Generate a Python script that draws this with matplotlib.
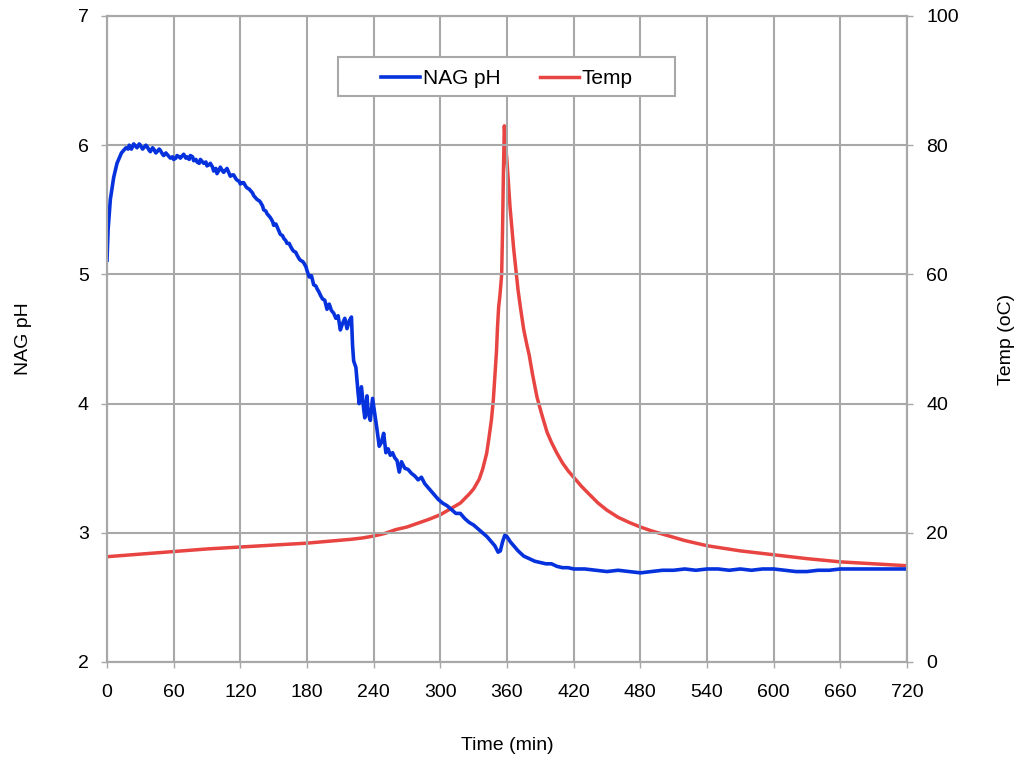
import matplotlib
matplotlib.use("Agg")
import matplotlib.pyplot as plt
from matplotlib.patches import Rectangle

plt.rcParams['font.family'] = ['Liberation Sans', 'DejaVu Sans']

# NAG pH readings (time in min)
ph_time = [0, 1, 3, 6, 9, 13, 15, 17, 19, 20, 22, 24, 26, 27, 29, 30, 32, 33, 35, 36,
           38, 39, 41, 42, 44, 45, 47, 48, 50, 51, 53, 54, 56, 57, 59, 60, 62, 63, 65, 66,
           68, 69, 71, 72, 74, 75, 77, 78, 80, 81, 83, 84, 86, 87, 89, 90, 92, 93, 95, 96,
           98, 99, 101, 102, 104, 105, 107, 108, 110, 111, 113, 114, 116, 117, 119, 120, 122, 123, 125, 126,
           128, 129, 131, 132, 134, 135, 137, 138, 140, 141, 143, 144, 146, 147, 149, 150, 152, 153, 155, 156,
           158, 159, 161, 162, 164, 165, 167, 168, 170, 171, 173, 174, 176, 177, 179, 180, 182, 184, 186, 188,
           189, 191, 192, 194, 196, 198, 200, 202, 204, 206, 208, 210, 212, 214, 216, 218,
           220, 221, 222, 224, 226, 227, 229, 231, 232, 234, 235, 237, 239, 241, 243, 245, 247, 249, 251, 253,
           255, 257, 259, 261, 263, 265, 268, 271, 274, 277, 280, 283, 286, 290, 294, 298, 302, 306, 310, 314,
           318, 322, 326, 330, 334, 338, 342, 346, 349, 352, 354, 356, 358, 360, 363, 366, 370, 375, 380, 385,
           390, 395, 400, 405, 410, 415, 420, 430, 440, 450, 460, 470, 480, 490, 500, 510, 520, 530, 540, 550,
           560, 570, 580, 590, 600, 610, 620, 630, 640, 650, 660, 670, 680, 690, 700, 710, 720]
ph_vals = [5.11, 5.35, 5.58, 5.75, 5.86, 5.94, 5.96, 5.98, 5.97, 6.00, 5.97, 6.01, 5.99, 5.98, 6.01, 6.00, 5.97, 5.98, 6.00, 5.99,
           5.96, 5.95, 5.98, 5.97, 5.94, 5.95, 5.97, 5.96, 5.93, 5.92, 5.94, 5.93, 5.91, 5.90, 5.91, 5.89, 5.90, 5.92, 5.91, 5.90,
           5.92, 5.93, 5.90, 5.91, 5.89, 5.92, 5.91, 5.88, 5.89, 5.87, 5.86, 5.89, 5.87, 5.86, 5.87, 5.84, 5.85, 5.86, 5.83, 5.80,
           5.82, 5.78, 5.81, 5.83, 5.80, 5.79, 5.81, 5.82, 5.78, 5.76, 5.77, 5.77, 5.74, 5.73, 5.72, 5.70, 5.71, 5.71, 5.68, 5.67,
           5.66, 5.65, 5.63, 5.61, 5.59, 5.58, 5.57, 5.56, 5.53, 5.50, 5.49, 5.47, 5.45, 5.44, 5.41, 5.38, 5.39, 5.37, 5.33, 5.31,
           5.30, 5.28, 5.26, 5.24, 5.24, 5.22, 5.19, 5.18, 5.17, 5.15, 5.12, 5.11, 5.10, 5.09, 5.06, 5.03, 4.98, 4.99, 4.92, 4.91,
           4.89, 4.86, 4.84, 4.81, 4.80, 4.73, 4.77, 4.72, 4.70, 4.66, 4.68, 4.57, 4.62, 4.66, 4.58, 4.64,
           4.67, 4.45, 4.33, 4.28, 4.08, 4.00, 4.13, 3.96, 3.89, 4.06, 3.93, 3.87, 4.04, 3.92, 3.80, 3.67, 3.70, 3.77, 3.62, 3.65,
           3.60, 3.62, 3.58, 3.56, 3.47, 3.55, 3.50, 3.49, 3.46, 3.44, 3.41, 3.43, 3.38, 3.34, 3.30, 3.26, 3.23, 3.21, 3.18, 3.15,
           3.15, 3.11, 3.08, 3.06, 3.03, 3.00, 2.97, 2.93, 2.90, 2.85, 2.86, 2.93, 2.98, 2.97, 2.93, 2.90, 2.86, 2.82, 2.80, 2.78,
           2.77, 2.76, 2.76, 2.74, 2.73, 2.73, 2.72, 2.72, 2.71, 2.70, 2.71, 2.70, 2.69, 2.70, 2.71, 2.71, 2.72, 2.71, 2.72, 2.72,
           2.71, 2.72, 2.71, 2.72, 2.72, 2.71, 2.70, 2.70, 2.71, 2.71, 2.72, 2.72, 2.72, 2.72, 2.72, 2.72, 2.72]

# temperature readings (oC)
temp_time = [0, 30, 60, 90, 120, 150, 180, 200, 220, 230, 240, 250, 260, 270, 280, 290, 300, 305, 312, 318,
             322, 326, 330, 335, 338, 341.7, 344, 346, 347.7, 349, 350.5, 351.5, 352.5, 353.5, 354.5, 355.2, 356, 356.8, 357.6, 358.5,
             360, 362.7, 366, 370, 372, 375, 378, 380, 383, 387, 391, 396, 400, 405, 410, 415, 420, 427, 435, 442,
             450, 460, 470, 480, 490, 500, 510, 520, 530, 540, 555, 570, 585, 600, 615, 630, 645, 660, 675, 690,
             705, 720]
temp_vals = [16.3, 16.7, 17.1, 17.5, 17.8, 18.1, 18.4, 18.7, 19.0, 19.2, 19.5, 19.9, 20.5, 20.9, 21.5, 22.1, 22.8, 23.3, 24.0, 24.6,
             25.3, 26.0, 26.8, 28.3, 29.8, 32.3, 35.0, 37.5, 40.6, 44.0, 48.0, 52.0, 55.0, 56.5, 58.5, 60.0, 67.0, 76.0, 83.0, 80.5,
             77.5, 70.5, 64.0, 57.5, 55.0, 51.5, 49.0, 47.5, 44.5, 41.0, 38.5, 35.6, 34.0, 32.3, 30.8, 29.6, 28.6, 27.2, 25.8, 24.6,
             23.5, 22.4, 21.6, 20.9, 20.3, 19.8, 19.3, 18.8, 18.4, 18.0, 17.6, 17.2, 16.9, 16.6, 16.3, 16.0, 15.75, 15.5, 15.35, 15.2,
             15.05, 14.9]

x_ticks = list(range(0, 721, 60))

grid_col = '#a8a8a8'
W, H = 1023, 762

fig = plt.figure(figsize=(W / 100, H / 100), dpi=100)
ax = fig.add_axes([107 / W, 1 - 662 / H, 800 / W, 646 / H])
ax2 = ax.twinx()

ax.set_zorder(ax2.get_zorder() + 1)
ax.patch.set_visible(False)

l1, = ax.plot(ph_time, ph_vals, color='#0532dd', lw=2.6, label='NAG pH', solid_joinstyle='round')
l2, = ax2.plot(temp_time, temp_vals, color='#e84442', lw=2.5, label='Temp')

ax.set_xlim(0, 720)
ax.set_ylim(2, 7)
ax2.set_ylim(0, 100)
ax.set_xticks(x_ticks)
ax.set_yticks([2, 3, 4, 5, 6, 7])
ax2.set_yticks([0, 20, 40, 60, 80, 100])

ax.grid(True, color=grid_col, lw=1.5)
ax.set_axisbelow(True)
for a in (ax, ax2):
    for s in a.spines.values():
        s.set_color(grid_col)
        s.set_linewidth(1.5)
    a.tick_params(colors=grid_col, labelcolor='black', labelsize=14, length=4, width=1)
ax.tick_params(axis='x', pad=12)
ax.tick_params(axis='y', pad=9)
ax2.tick_params(axis='y', pad=10)

ax.set_xlabel('Time (min)', fontsize=14, labelpad=26)
ax.set_ylabel('NAG pH', fontsize=14, labelpad=33)
ax2.set_ylabel('Temp (oC)', fontsize=14, labelpad=28)

# legend box
fig.patches.append(Rectangle((338 / W, 1 - 96 / H), 337 / W, 39 / H, transform=fig.transFigure,
                             facecolor='white', edgecolor=grid_col, lw=1.5, zorder=5))
leg = fig.legend(handles=[l1, l2], loc='center', bbox_to_anchor=(507 / W, 1 - 79 / H),
                 ncol=2, fontsize=15, frameon=False,
                 handlelength=1.85, columnspacing=1.9, handletextpad=0.15,
                 borderaxespad=0.0)
leg.set_zorder(6)

fig.savefig('out.png', dpi=100)
